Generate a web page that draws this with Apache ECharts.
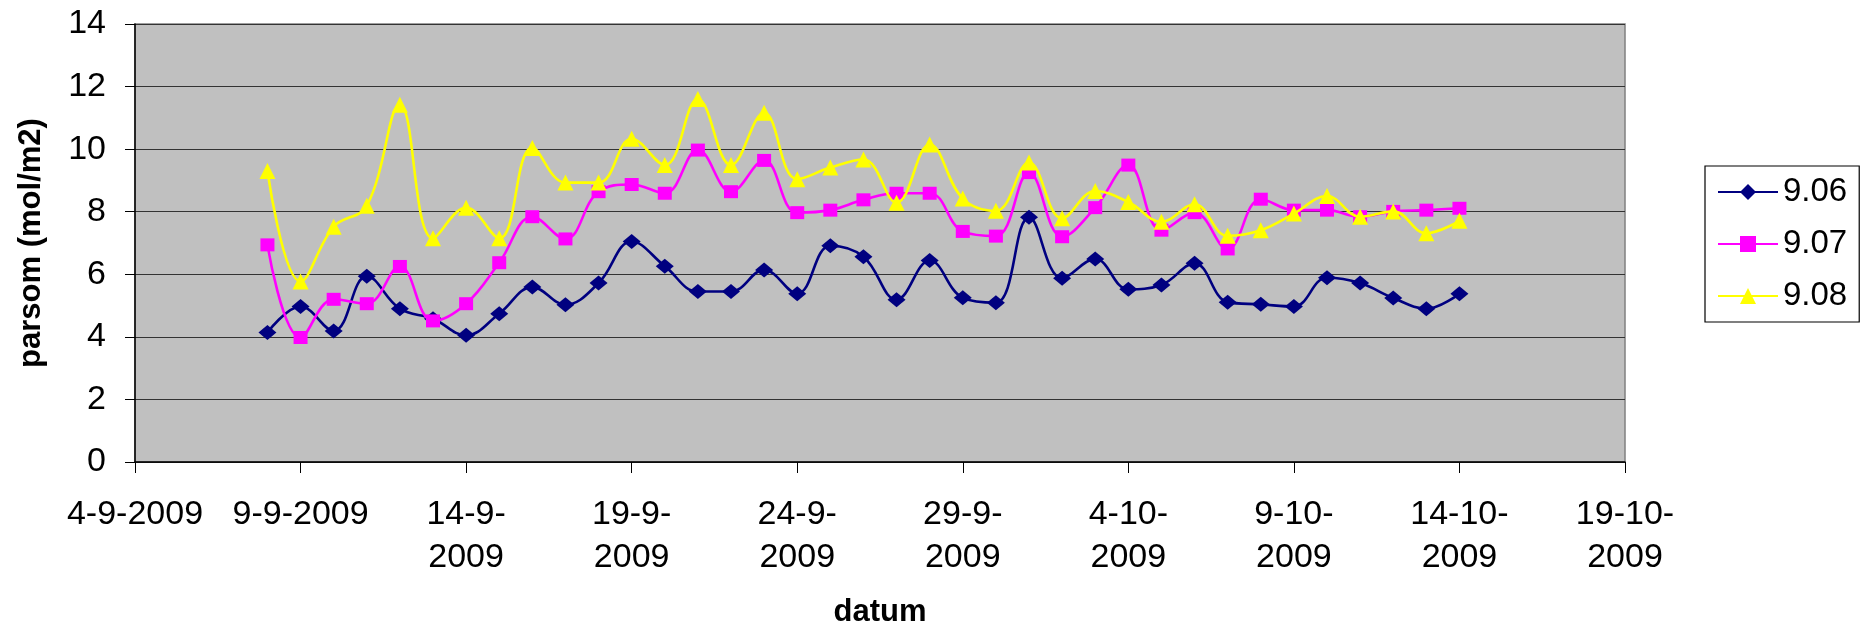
<!DOCTYPE html>
<html><head><meta charset="utf-8">
<script src="https://cdn.jsdelivr.net/npm/echarts@6/dist/echarts.min.js"></script>
<style>html,body{margin:0;padding:0;background:#fff}#c{width:1869px;height:633px}</style>
</head><body><div id="c"></div><script>
const dates = ['8-9-2009','9-9-2009','10-9-2009','11-9-2009','12-9-2009','13-9-2009','14-9-2009','15-9-2009','16-9-2009','17-9-2009','18-9-2009','19-9-2009','20-9-2009','21-9-2009','22-9-2009','23-9-2009','24-9-2009','25-9-2009','26-9-2009','27-9-2009','28-9-2009','29-9-2009','30-9-2009','1-10-2009','2-10-2009','3-10-2009','4-10-2009','5-10-2009','6-10-2009','7-10-2009','8-10-2009','9-10-2009','10-10-2009','11-10-2009','12-10-2009','13-10-2009','14-10-2009'];
const s906 = [4.14,4.97,4.19,5.94,4.90,4.58,4.05,4.74,5.59,5.03,5.72,7.05,6.26,5.45,5.45,6.14,5.38,6.91,6.56,5.19,6.44,5.25,5.09,7.82,5.87,6.49,5.52,5.66,6.35,5.11,5.04,4.97,5.89,5.72,5.24,4.90,5.38];
const s907 = [6.94,3.98,5.20,5.06,6.25,4.51,5.06,6.37,7.84,7.13,8.64,8.87,8.59,9.97,8.64,9.64,7.97,8.05,8.38,8.59,8.59,7.37,7.22,9.25,7.20,8.13,9.49,7.41,7.97,6.81,8.40,8.05,8.05,7.84,8.01,8.05,8.11];
const s908 = [9.30,5.77,7.52,8.19,11.42,7.15,8.13,7.15,10.04,8.93,8.93,10.33,9.49,11.60,9.49,11.16,9.04,9.41,9.67,8.29,10.15,8.42,8.03,9.57,7.79,8.66,8.31,7.68,8.24,7.23,7.41,7.94,8.50,7.84,8.01,7.31,7.71];
const seriesNames = ['9.06','9.07','9.08'];
const xTickLabels = ['4-9-2009','9-9-2009','14-9-\n2009','19-9-\n2009','24-9-\n2009','29-9-\n2009','4-10-\n2009','9-10-\n2009','14-10-\n2009','19-10-\n2009'];
const yTicks = [0,2,4,6,8,10,12,14];

const startDate = Date.UTC(2009,8,4);
function dayOffset(s){ const p = s.split('-').map(Number); return (Date.UTC(p[2],p[1]-1,p[0]) - startDate)/86400000; }
const xs = dates.map(dayOffset);
function pairs(vals){ return vals.map((v,i)=>[xs[i], v]); }

const colors = ['#000080','#FF00FF','#FFFF00'];
const symbols = ['diamond','rect','triangle'];
const symSizes = [[18,15],[14,13],[16,16]];
const vals = [s906, s907, s908];

const chart = echarts.init(document.getElementById('c'), null, {renderer:'canvas'});
const font = 'Liberation Sans, Arial, sans-serif';
chart.setOption({
  animation:false,
  backgroundColor:'#ffffff',
  textStyle:{fontFamily:font},
  grid:{left:135, top:24, width:1490, height:438, show:true, backgroundColor:'#C0C0C0', borderColor:'#808080', borderWidth:1.5},
  legend:{
    orient:'vertical', left:1705, top:166, padding:[8,12,8,12],
    backgroundColor:'#fff', borderColor:'#000', borderWidth:1.2,
    itemWidth:60, itemHeight:20, itemGap:16,
    textStyle:{fontSize:33, color:'#000', fontFamily:font, lineHeight:36},
    data:seriesNames
  },
  xAxis:{
    type:'value', min:0, max:45, interval:5,
    name:'datum', nameLocation:'middle', nameGap:135,
    nameTextStyle:{fontSize:31, fontWeight:'bold', color:'#000', fontFamily:font},
    axisLine:{show:true, onZero:false, lineStyle:{color:'#000', width:1.5}},
    axisTick:{show:true, length:11, lineStyle:{color:'#000'}},
    splitLine:{show:false},
    axisLabel:{fontSize:34, color:'#000', margin:31, lineHeight:43, fontFamily:font,
      formatter:v=>xTickLabels[Math.round(v/5)]}
  },
  yAxis:{
    type:'value', min:yTicks[0], max:yTicks[yTicks.length-1], interval:yTicks[1]-yTicks[0],
    name:'parsom (mol/m2)', nameLocation:'middle', nameGap:88,
    nameTextStyle:{fontSize:31, fontWeight:'bold', color:'#000', fontFamily:font},
    axisLine:{show:true, lineStyle:{color:'#000', width:1.5}},
    axisTick:{show:true, length:10, lineStyle:{color:'#000'}},
    splitLine:{show:true, lineStyle:{color:'#333333', width:1.2}},
    axisLabel:{fontSize:34, color:'#000', margin:29, fontFamily:font}
  },
  series: seriesNames.map((n,i)=>({
    name:n, type:'line', data:pairs(vals[i]), smooth:0.4,
    symbol:symbols[i], symbolSize:symSizes[i], showAllSymbol:true,
    lineStyle:{color:colors[i], width:2.6},
    itemStyle:{color:colors[i], borderWidth:0},
    z: 2+i
  }))
});
</script></body></html>
